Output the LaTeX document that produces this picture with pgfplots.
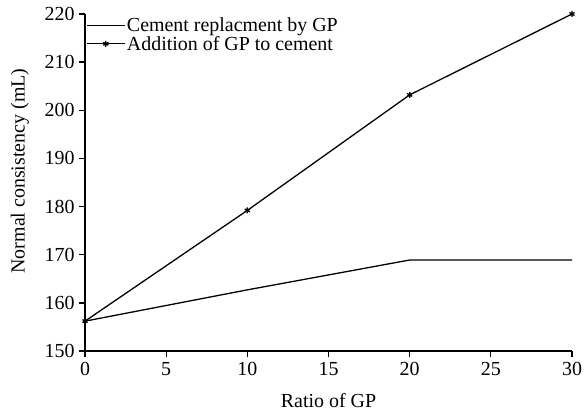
\documentclass[border=0pt]{standalone}
\usepackage{pgfplots}
\pgfplotsset{compat=1.18}
\usepackage{fontspec}
\setmainfont{Liberation Serif}
\begin{document}
\begin{tikzpicture}
\begin{axis}[
  name=ax,
  scale only axis,
  width=487bp, height=337bp,
  xmin=0, xmax=30, ymin=150, ymax=220,
  xtick={0,5,...,30}, ytick={150,160,...,220},
  axis lines=left,
  axis line style={line width=1.5pt, -},
  tick style={line width=1.3pt, black},
  tick align=outside,
  major tick length=6bp,
  /pgf/number format/assume math mode=true,
  ticklabel style={font=\fontsize{20}{22}\selectfont},
  yticklabel style={xshift=-1bp},
  xticklabel style={yshift=-2bp},
  label style={font=\fontsize{20}{22}\selectfont},
  xlabel={Ratio of GP},
  ylabel={Normal consistency (mL)},
  xlabel style={at={(axis description cs:0.5,-0.148)}, anchor=center},
  ylabel style={at={(axis description cs:-0.1335,0.534)}, anchor=center},
  legend style={draw=none, fill=none, at={(0,1.0)}, anchor=north west,
    yshift=-1bp,
    font=\fontsize{20}{19}\selectfont, row sep=0pt, inner sep=1bp,
    nodes={inner sep=1.5bp}},
  legend cell align=left,
  legend image code/.code={\draw[mark repeat=2,mark phase=2,#1] plot coordinates {(0bp,0bp) (19bp,0bp) (38bp,0bp)};},
  clip=false,
]
\addplot[black, line width=1.3pt] coordinates {(0,156.2) (10,162.7) (20,168.9) (30,168.9)};
\addlegendentry{Cement replacment by GP}
\addplot[black, line width=1.3pt, mark=asterisk, mark size=3bp, mark options={line width=1.3pt}] coordinates {(0,156.2) (10,179.2) (20,203.2) (30,220)};
\addlegendentry{Addition of GP to cement}
\end{axis}
\pgfresetboundingbox
\path ([shift={(-85bp,-61bp)}]ax.south west) rectangle ([shift={(12bp,14bp)}]ax.north east);
\end{tikzpicture}
\end{document}
